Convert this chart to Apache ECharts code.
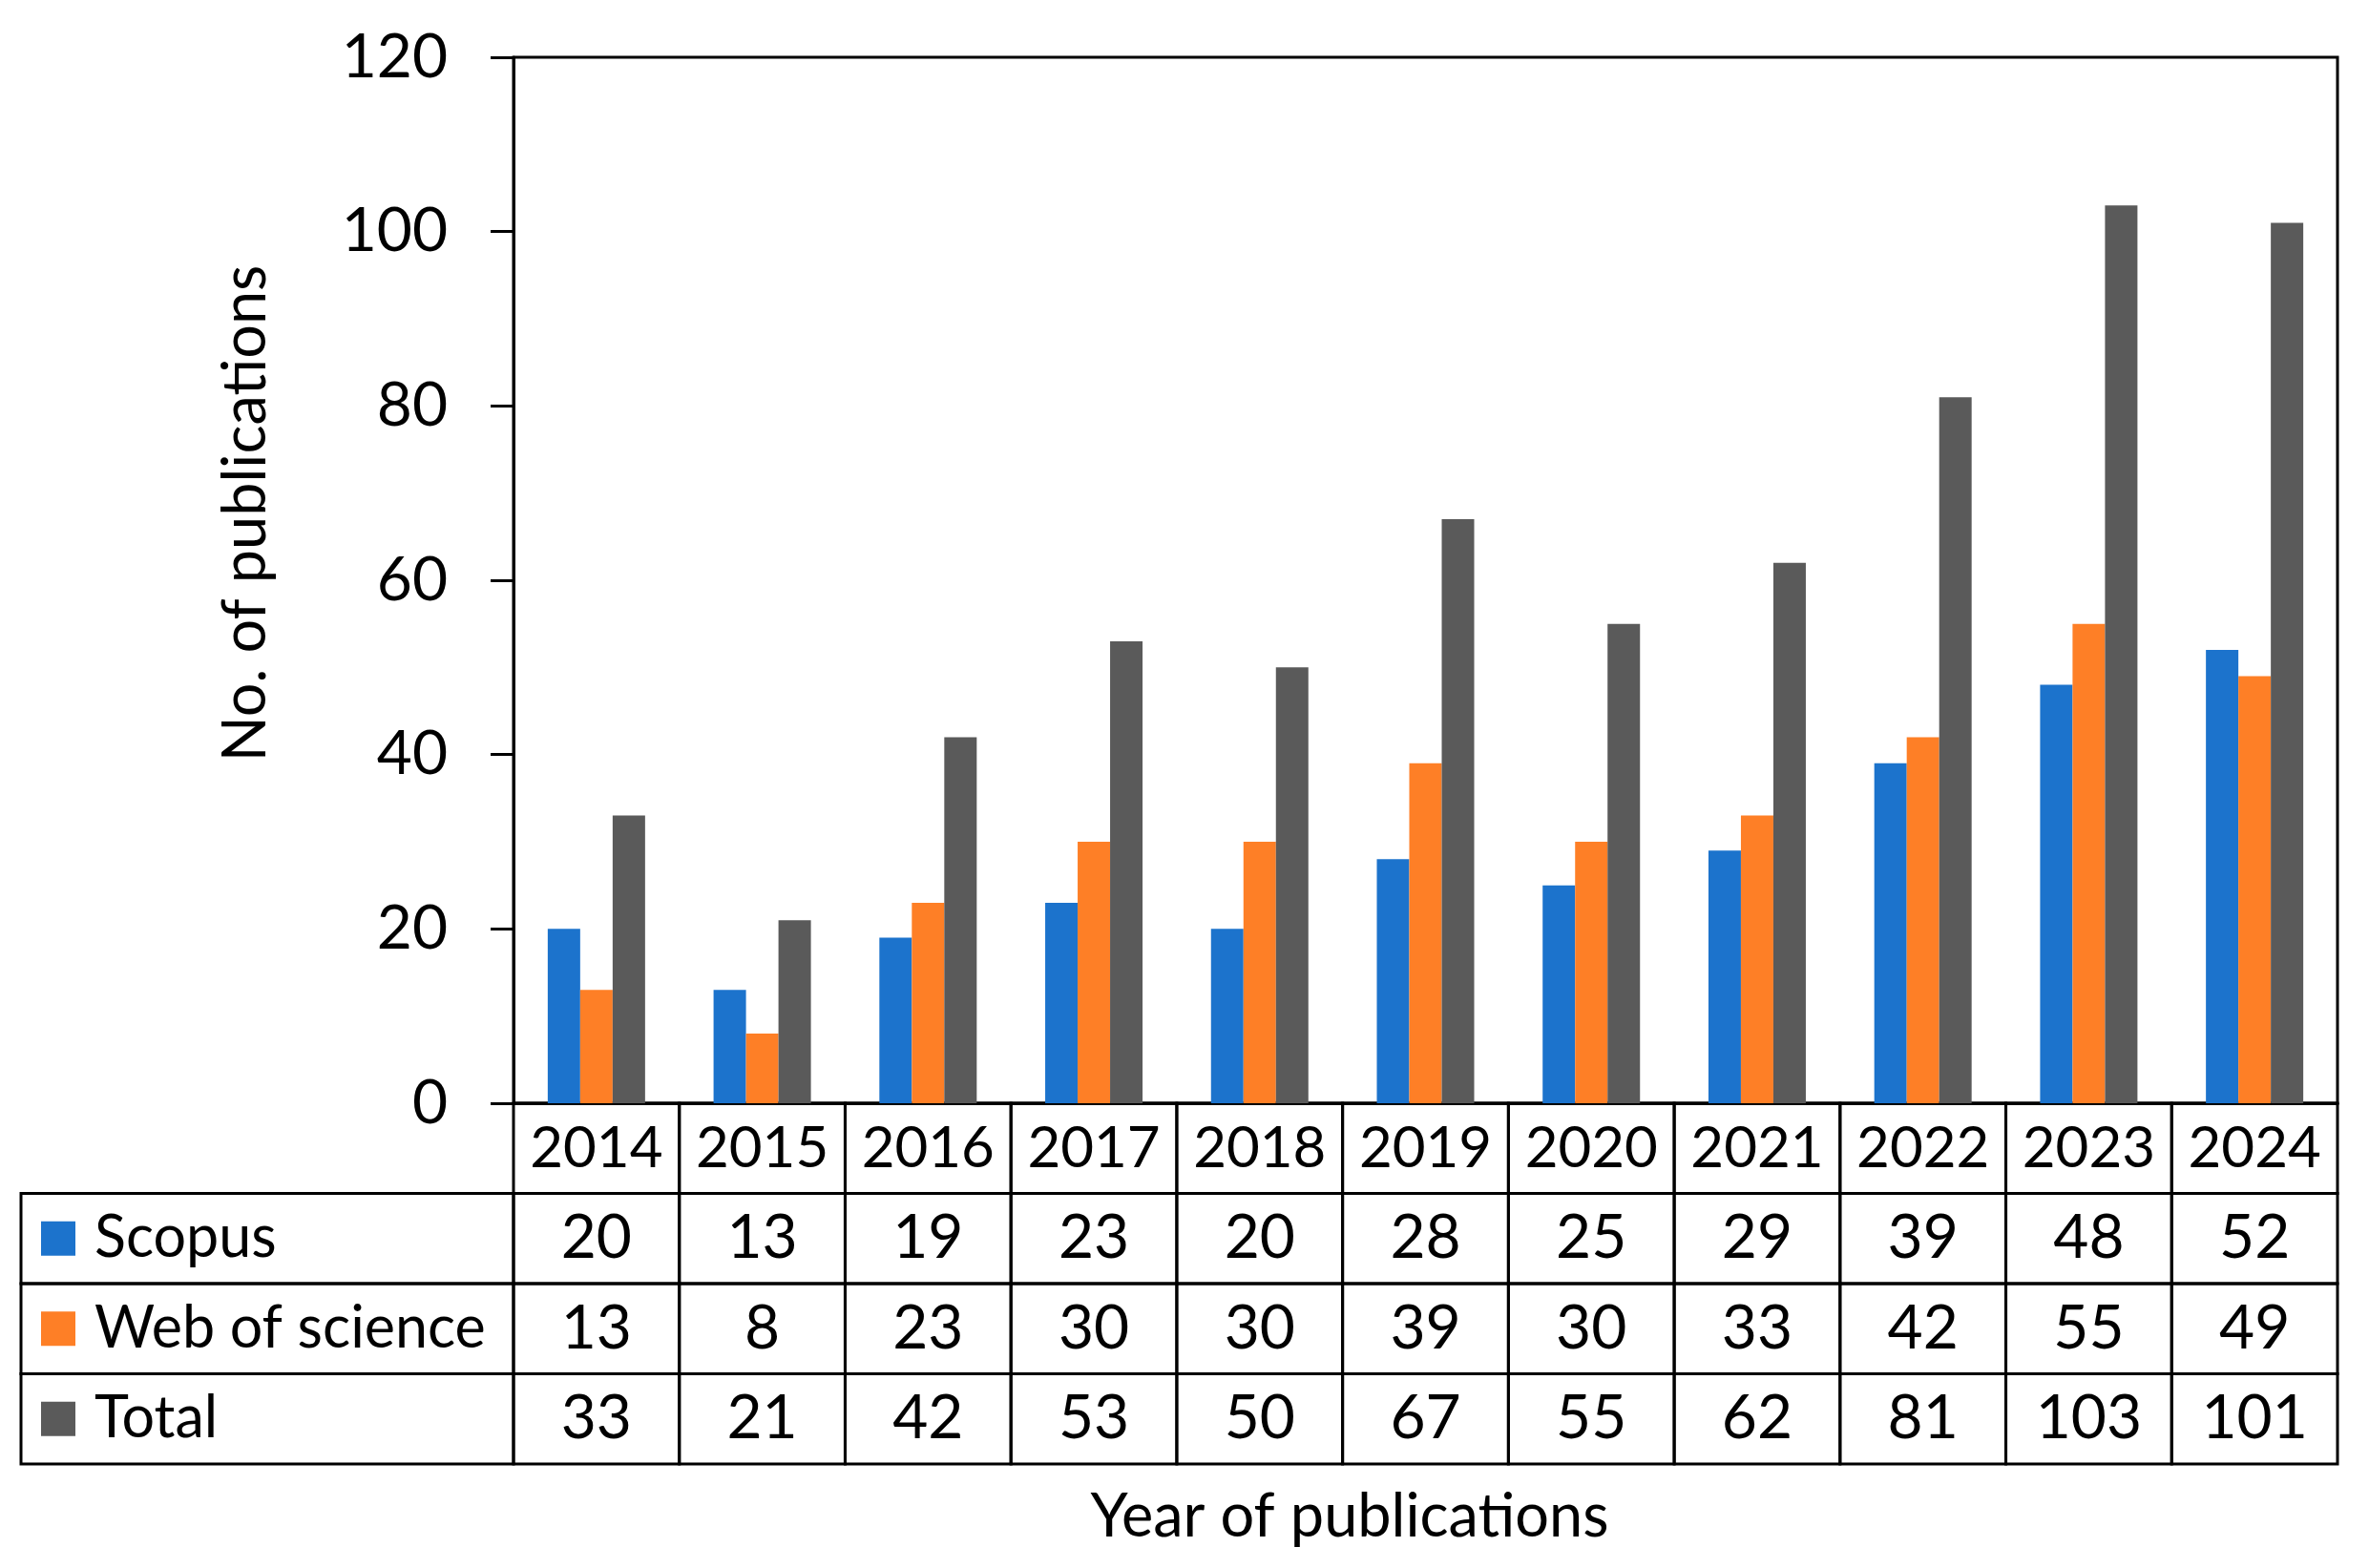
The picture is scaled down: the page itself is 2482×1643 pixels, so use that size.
<!DOCTYPE html>
<html><head><meta charset="utf-8">
<script src="https://cdn.jsdelivr.net/npm/echarts@6/dist/echarts.min.js"></script>
<style>html,body{margin:0;padding:0;background:#fff}#c{width:2482px;height:1643px}</style>
</head><body><div id="c"></div>
<script>
const years = ['2014','2015','2016','2017','2018','2019','2020','2021','2022','2023','2024'];
const scopus = [20,13,19,23,20,28,25,29,39,48,52];
const webOfScience = [13,8,23,30,30,39,30,33,42,55,49];
const total = [33,21,42,53,50,67,55,62,81,103,101];
const seriesNames = ['Scopus','Web of science','Total'];
const colors = ['#1C73CC','#FE7F26','#5A5A5A'];
const yTicks = {min:0, max:120, interval:20};

const FONT = 'Lato, "Open Sans", sans-serif';
const FS = 64;
const L = 538, R = 2449, TOP = 60, BASE = 1156, TBOT = 1534, TLEFT = 22;
const colW = (R - L) / years.length;
const labelCols = (L - TLEFT) / colW;

const seriesData = [scopus, webOfScience, total];
// table cells: [colStart, row, colEnd, text, kind]  kind: -2 header, -1 value, >=0 legend row label
const cells = [];
years.forEach((y,i)=>cells.push([i,0,i+1,y,-2]));
seriesData.forEach((arr,r)=>{
  cells.push([-labelCols, r+1, 0, seriesNames[r], r]);
  arr.forEach((v,i)=>cells.push([i, r+1, i+1, String(v), -1]));
});

const chart = echarts.init(document.getElementById('c'), null, {renderer:'canvas'});
chart.setOption({
  backgroundColor:'#fff',
  animation:false,
  grid:[
    {left:L, right:2482-R, top:TOP, bottom:1643-BASE, show:true, borderColor:'#000', borderWidth:3, containLabel:false},
    {left:TLEFT, right:2482-R, top:BASE, height:TBOT-BASE, containLabel:false}
  ],
  xAxis:[
    {type:'category', gridIndex:0, data:years, axisLine:{lineStyle:{color:'#000',width:3}}, axisTick:{show:false}, axisLabel:{show:false}},
    {type:'value', gridIndex:1, min:-labelCols, max:years.length, show:false}
  ],
  yAxis:[
    {type:'value', gridIndex:0, min:yTicks.min, max:yTicks.max, interval:yTicks.interval,
     axisLine:{show:true, lineStyle:{color:'#000',width:3}},
     axisTick:{show:true, inside:false, length:24, lineStyle:{color:'#000',width:3}},
     splitLine:{show:false},
     axisLabel:{color:'#000', fontSize:FS, fontFamily:FONT, margin:69}},
    {type:'value', gridIndex:1, min:0, max:4, inverse:true, show:false}
  ],
  graphic:[
    {type:'text', x:258, y:538, rotation:Math.PI/2, style:{text:'No. of publications', fill:'#000', font:'63px '+FONT, align:'center', verticalAlign:'middle'}},
    {type:'text', x:1414, y:1590, style:{text:'Year of publications', fill:'#000', font:'63px '+FONT, align:'center', verticalAlign:'middle'}}
  ],
  series:[
    ...seriesData.map((arr,i)=>({
      name:seriesNames[i], type:'bar', xAxisIndex:0, yAxisIndex:0, data:arr,
      barWidth:34, barGap:'0%', itemStyle:{color:colors[i]}
    })),
    {type:'custom', xAxisIndex:1, yAxisIndex:1, clip:false, data:cells,
     encode:{x:[0,2], y:1},
     renderItem:function(params, api){
       const c0 = api.value(0), r = api.value(1), c1 = api.value(2);
       const txt = cells[params.dataIndex][3];
       const kind = cells[params.dataIndex][4];
       const p0 = api.coord([c0, r]);
       const p1 = api.coord([c1, r+1]);
       const x = p0[0], y = p0[1], w = p1[0]-p0[0], h = p1[1]-p0[1];
       const children = [{type:'rect', shape:{x:x, y:y, width:w, height:h}, style:{fill:'none', stroke:'#000', lineWidth:3}}];
       if (kind >= 0) {
         children.push({type:'rect', shape:{x:x+21, y:y+h/2-18, width:36, height:36}, style:{fill:colors[kind]}});
         children.push({type:'text', style:{text:txt, x:x+77, y:y+h/2, fill:'#000', font:'61px '+FONT, align:'left', verticalAlign:'middle'}});
       } else {
         const fs = kind === -2 ? 60 : FS;
         children.push({type:'text', style:{text:txt, x:x+w/2, y:y+h/2, fill:'#000', font:fs+'px '+FONT, align:'center', verticalAlign:'middle'}});
       }
       return {type:'group', children:children};
     }}
  ]
});
</script>
</body></html>
